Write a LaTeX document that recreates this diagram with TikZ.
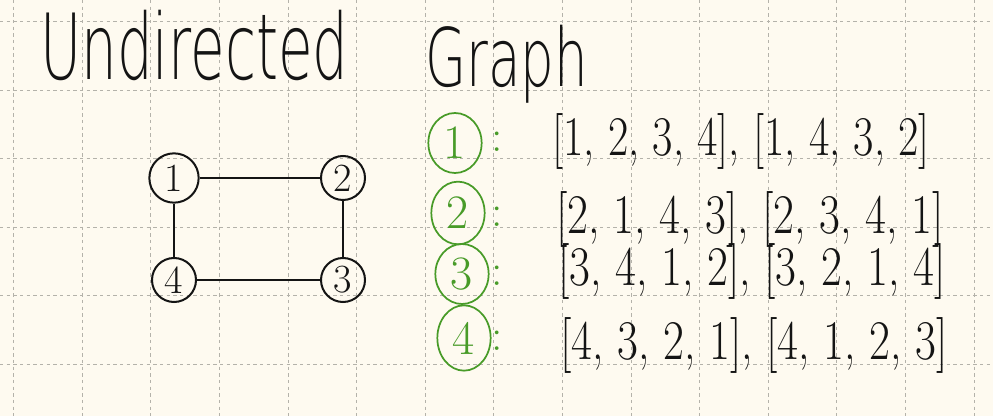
\documentclass[tikz,border=0pt]{standalone}
\usepackage{tikz}
\usepackage{fontspec}
\usetikzlibrary{shapes.geometric}
\newfontfamily\titlefont{DejaVu Sans ExtraLight}
\definecolor{paper}{RGB}{254,250,240}
\definecolor{gridgray}{RGB}{180,178,170}
\definecolor{penink}{RGB}{20,20,20}
\definecolor{pengreen}{RGB}{72,155,40}

\begin{document}
\begin{tikzpicture}[x=0.75pt,y=0.75pt,yscale=-1,xscale=1,
	gridline/.style={color=gridgray,line width=0.5pt,dash pattern={on 2.5pt off 2.5pt}},
	vertex/.style={circle,draw=penink,line width=1.5pt,minimum size=33pt,inner sep=0pt,text=penink,font=\fontsize{30}{30}\selectfont},
	edge/.style={draw=penink,line width=1.4pt},
	keynode/.style={ellipse,draw=pengreen,line width=1.3pt,minimum width=40pt,minimum height=45pt,inner sep=0pt,text=pengreen,font=\fontsize{36}{36}\selectfont},
	colonnode/.style={text=pengreen,inner sep=0pt,font=\fontsize{34}{34}\selectfont},
	listnode/.style={anchor=west,text=penink,inner sep=0pt,font=\fontsize{42}{42}\selectfont}
	]

	%%PAPER---------------------------------------------
	\useasboundingbox (0,0) rectangle (993,416);
	\fill [paper] (0,0) rectangle (993,416);
	%%vertical grid lines
	\foreach \k in {0,...,14}
		\draw [gridline] (13.5+68.6*\k,0) -- (13.5+68.6*\k,416);
	%%horizontal grid lines
	\foreach \k in {0,...,5}
		\draw [gridline] (0,21.7+68.5*\k) -- (993,21.7+68.5*\k);

	%%TITLE---------------------------------------------
	% Text Node
	\draw (40,80) node [anchor=base west][inner sep=0pt,text=penink] (title1) {\resizebox{231pt}{52pt}{\titlefont Undirected}};
	% Text Node
	\draw (425,87) node [anchor=base west][inner sep=0pt,text=penink] (title2) {\resizebox{122pt}{46pt}{\titlefont Graph}};

	%%GRAPH---------------------------------------------
	\node [vertex,minimum size=37pt] (n1) at (174,178) {1};
	\node [vertex] (n2) at (343,178) {2};
	\node [vertex] (n3) at (343,280) {3};
	\node [vertex] (n4) at (174,280) {4};

	\draw [edge] (n1) -- (n2);
	\draw [edge] (n2) -- (n3);
	\draw [edge] (n3) -- (n4);
	\draw [edge] (n4) -- (n1);

	%%PATHS---------------------------------------------
	\node [keynode] (k1) at (455,143) {1};
	\node [keynode,minimum height=47pt] (k2) at (458,213) {2};
	\node [keynode] (k3) at (462,274) {3};
	\node [keynode,minimum height=49pt] (k4) at (464,338) {4};

	% Text Node
	\node [colonnode] (c1) at (497,142) {:};
	\node [colonnode] (c2) at (497,217) {:};
	\node [colonnode] (c3) at (497,276) {:};
	\node [colonnode] (c4) at (497,341) {:};

	% Text Node
	\node [listnode] (l1) at (552,142) {\scalebox{0.79}[1]{[1, 2, 3, 4], [1, 4, 3, 2]}};
	\node [listnode] (l2) at (556,220) {\scalebox{0.81}[1]{[2, 1, 4, 3], [2, 3, 4, 1]}};
	\node [listnode] (l3) at (558,272) {\scalebox{0.81}[1]{[3, 4, 1, 2], [3, 2, 1, 4]}};
	\node [listnode] (l4) at (560,346) {\scalebox{0.81}[1]{[4, 3, 2, 1], [4, 1, 2, 3]}};

\end{tikzpicture}
\end{document}
